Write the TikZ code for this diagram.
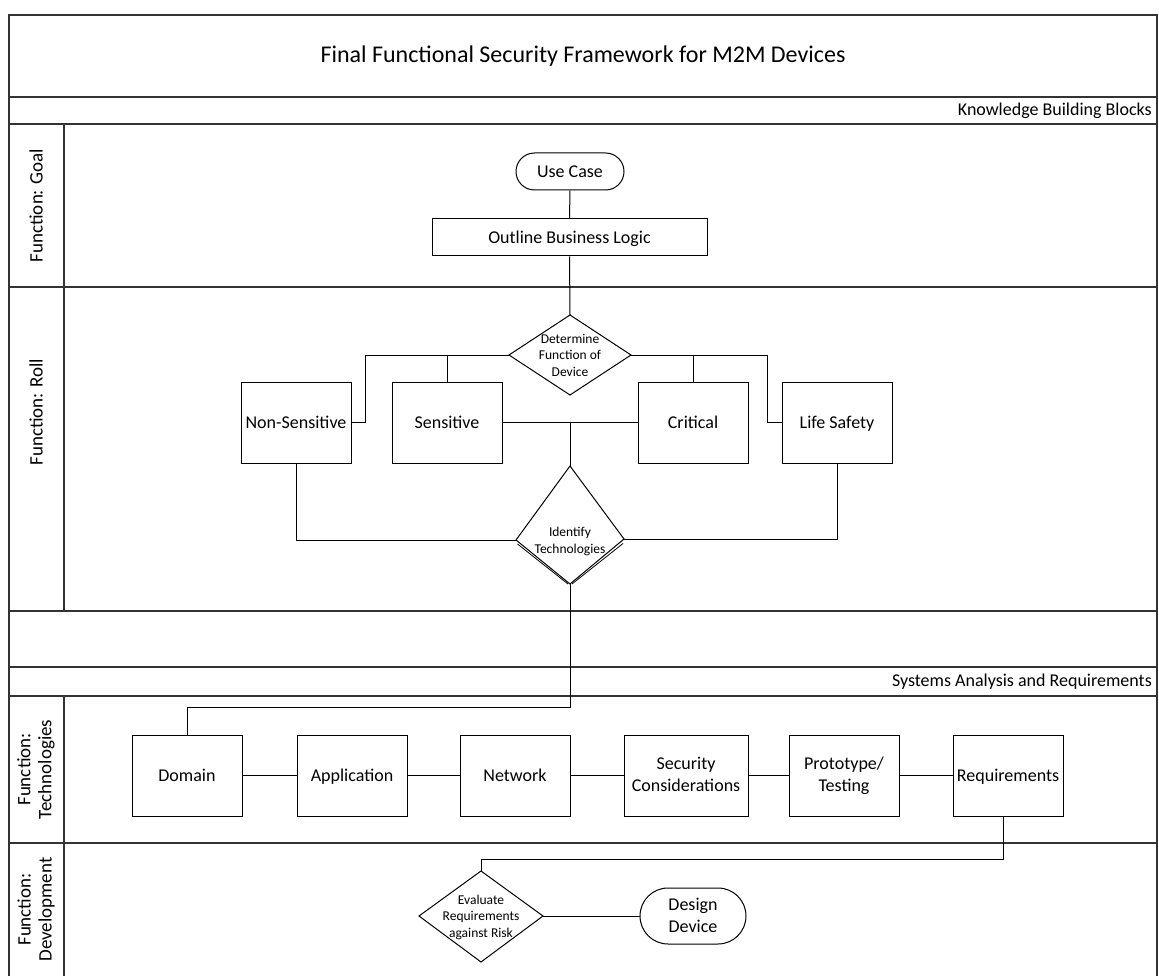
\documentclass[tikz,border=0pt]{standalone}
\usepackage{fontspec}
\setmainfont{Carlito}
\usetikzlibrary{calc,shapes.misc}
\newcommand\boxstrut{\rule[-2pt]{0pt}{16.5pt}}
\begin{document}
\begin{tikzpicture}[x=1pt,y=-1pt,
  lane/.style={draw=black!80, line width=1.4pt},
  box/.style={draw, line width=1pt, minimum width=110pt, minimum height=81pt, inner sep=2pt, align=center, font=\fontsize{18}{22}\selectfont, execute at begin node=\boxstrut, execute at end node=\boxstrut},
  term/.style={draw, line width=1pt, rounded rectangle, inner sep=2pt, align=center, font=\fontsize{18}{22}\selectfont, execute at begin node=\boxstrut, execute at end node=\boxstrut},
  conn/.style={line width=1pt},
  dia/.style={line width=1pt, line join=miter},
  small/.style={font=\fontsize{13.5}{16.5}\selectfont, align=center, inner sep=0pt},
  lanelabel/.style={rotate=90, font=\fontsize{19}{21}\selectfont, align=center, inner sep=0pt},
  hdr/.style={font=\fontsize{18}{20}\selectfont, anchor=east, inner sep=0pt},
]
\useasboundingbox (0,0) rectangle (1159,976);
% frame and lanes
\draw[lane] (9,976) -- (9,15) -- (1157,15) -- (1157,976);
\foreach \yy in {97,124,287,611,667,696,843} \draw[lane] (9,\yy) -- (1157,\yy);
\draw[lane] (64,124) -- (64,611);
\draw[lane] (64,696) -- (64,976);

\node[font=\fontsize{24}{28}\selectfont] (title) at (583,56) {Final Functional Security Framework for M2M Devices};
\node[hdr] (kbb) at (1152,110.5) {Knowledge Building Blocks};
\node[hdr] (sar) at (1152,682) {Systems Analysis and Requirements};

\node[lanelabel] (lgoal) at (36,205.5) {Function: Goal};
\node[lanelabel] (lroll) at (36,412) {Function: Roll};
\node[lanelabel] (ltech) at (36,769.5) {Function:\\Technologies};
\node[lanelabel] (ldev) at (36,909.5) {Function:\\Development};

% goal lane
\node[term, minimum width=112pt, minimum height=37pt] (usecase) at (570,171.5) {Use Case};
\node[box, minimum width=275pt, minimum height=37pt] (outline) at (569.5,237.5) {Outline Business Logic};

% determine diamond
\coordinate (detT) at (570,315);
\coordinate (detL) at (509,355);
\coordinate (detB) at (570,395);
\coordinate (detR) at (631,355);
\draw[dia] (detT) -- (detR) -- (detB) -- (detL) -- cycle;
\node[small] (det) at (570,355) {Determine\\Function of\\Device};

% roll boxes
\node[box] (nonsens) at (296,422.5) {Non-Sensitive};
\node[box] (sens) at (447,422.5) {Sensitive};
\node[box] (crit) at (693,422.5) {Critical};
\node[box] (life) at (837,422.5) {Life Safety};

% identify diamond (stacked look)
\coordinate (idT) at (570,466);
\coordinate (idL) at (516,540);
\coordinate (idB) at (570,584);
\coordinate (idR) at (624,539);
\draw[dia] (idT) -- (idR) -- (idB) -- (idL) -- cycle;
\draw[line width=0.8pt] (517.5,544) -- (568,584) (623,543.5) -- (572,584);
\node[small] (ident) at (570,541.5) {Identify\\Technologies};

% technologies
\node[box] (domain) at (187,775.5) {Domain};
\node[box] (app) at (352,775.5) {Application};
\node[box] (net) at (515,775.5) {Network};
\node[box, minimum width=124pt] (sec) at (686,775.5) {Security\\Considerations};
\node[box] (proto) at (844,775.5) {Prototype/\\Testing};
\node[box] (req) at (1008,775.5) {Requirements};

% development
\coordinate (evT) at (481,871);
\coordinate (evL) at (419,916);
\coordinate (evB) at (481,962);
\coordinate (evR) at (543,916);
\draw[dia] (evT) -- (evR) -- (evB) -- (evL) -- cycle;
\node[small] (eval) at (481,917) {Evaluate\\Requirements\\against Risk};
\node[term, minimum width=110pt, minimum height=56pt] (design) at (693,916) {Design\\Device};

% connectors
\draw[conn] (usecase.south) -- (outline.north);
\draw[conn] (outline.south) -- (detT);
\draw[conn] (detL) -| ([xshift=14pt]nonsens.east) -- (nonsens.east);
\draw[conn] (sens.north) |- (detL);
\draw[conn] (detR) -| ([xshift=-14pt]life.west) -- (life.west);
\draw[conn] (crit.north) |- (detR);
\draw[conn] (sens.east) -- (crit.west);
\draw[conn] (idT) -- (idT |- sens.east);
\draw[conn] (nonsens.south) |- (idL);
\draw[conn] (life.south) |- (idR);
\draw[conn] (idB) |- ([yshift=27pt]domain.north) -- (domain.north);
\draw[conn] (domain.east) -- (app.west);
\draw[conn] (app.east) -- (net.west);
\draw[conn] (net.east) -- (sec.west);
\draw[conn] (sec.east) -- (proto.west);
\draw[conn] (proto.east) -- (req.west);
\draw[conn] ([xshift=-5pt]req.south) |- ([yshift=12pt]evT) -- (evT);
\draw[conn] (evR) -- (design.west);
\end{tikzpicture}
\end{document}
